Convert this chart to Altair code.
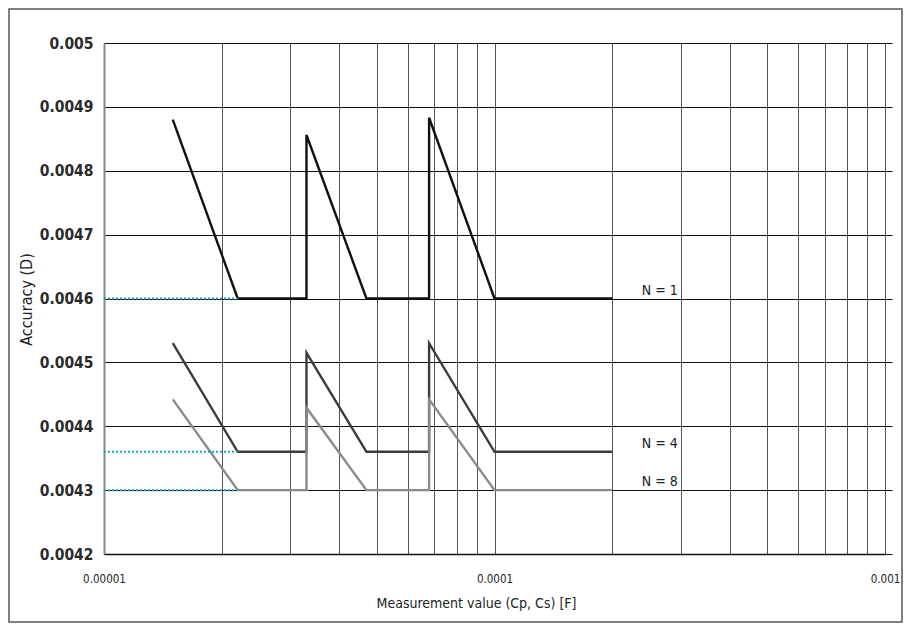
import altair as alt
import pandas as pd

# ---- data ----
x_pts = [1.5e-5, 2.2e-5, 3.3e-5, 3.3e-5, 4.7e-5, 6.8e-5, 6.8e-5, 1e-4, 2e-4]
n1 = [0.00488, 0.0046, 0.0046, 0.004856, 0.0046, 0.0046, 0.004883, 0.0046, 0.0046]
n4 = [0.00453, 0.00436, 0.00436, 0.004515, 0.00436, 0.00436, 0.00453, 0.00436, 0.00436]
n8 = [0.004442, 0.0043, 0.0043, 0.004429, 0.0043, 0.0043, 0.004442, 0.0043, 0.0043]
series_names = ["N = 1", "N = 4", "N = 8"]
series_colors = ["#111111", "#3c3c3c", "#8a8a8a"]

ref_levels = [0.0046, 0.00436, 0.0043]
ref_start = 1e-5
ref_end = 2.2e-5

label_x = 3e-4
y_ticks = [0.005, 0.0049, 0.0048, 0.0047, 0.0046, 0.0045, 0.0044, 0.0043, 0.0042]
x_grid = [1e-5, 2e-5, 3e-5, 4e-5, 5e-5, 6e-5, 7e-5, 8e-5, 9e-5,
          1e-4, 2e-4, 3e-4, 4e-4, 5e-4, 6e-4, 7e-4, 8e-4, 9e-4, 1e-3]

x_title = "Measurement value (Cp, Cs) [F]"
y_title = "Accuracy (D)"

FONT = "DejaVu Sans Condensed, Liberation Sans Narrow, sans-serif"
W, H = 781, 511

rows = []
for name, ys in zip(series_names, [n1, n4, n8]):
    for i, (xv, yv) in enumerate(zip(x_pts, ys)):
        rows.append({"series": name, "idx": i, "x": xv, "y": yv})
df = pd.DataFrame(rows)

ref_df = pd.DataFrame({"y": ref_levels, "x": [ref_start] * 3, "x2": [ref_end] * 3})
lab_df = pd.DataFrame({"label": series_names, "x": [label_x] * 3, "y": ref_levels})

xscale = alt.Scale(type="log", domain=[1e-5, 1e-3], nice=False)
yscale = alt.Scale(domain=[0.0042, 0.005], nice=False, zero=False)

x_axis = alt.Axis(
    values=x_grid, title=x_title, grid=True, gridColor="#555555", gridWidth=1,
    ticks=False, domain=True, domainColor="#111111", domainWidth=1.5,
    labelExpr="abs(log(datum.value)/LN10 - round(log(datum.value)/LN10)) < 1e-6 ? format(datum.value, '.5~f') : ''",
    labelFont=FONT, labelFontSize=11.5, labelColor="#222222", labelPadding=19,
    labelFlush=False, labelOverlap=False,
    titleFont=FONT, titleFontSize=14, titleFontWeight="normal", titleColor="#222222",
    titleY=49, titleBaseline="middle", titleX=372,
)
y_axis = alt.Axis(
    values=y_ticks, title=y_title, grid=True, gridColor="#111111", gridWidth=1,
    ticks=False, domain=True, domainColor="#888888", domainWidth=2,
    format=".4~f",
    labelFont=FONT, labelFontSize=15.5, labelFontWeight="bold", labelColor="#2a2a2a",
    labelPadding=11,
    titleFont=FONT, titleFontSize=16, titleFontWeight="normal", titleColor="#222222",
    titleX=-78, titleY=256, titleAngle=-90, titleBaseline="middle", titleAlign="center",
)

lines = alt.Chart(df).mark_line(strokeWidth=2.4, clip=True).encode(
    x=alt.X("x:Q", scale=xscale, axis=x_axis),
    y=alt.Y("y:Q", scale=yscale, axis=y_axis),
    color=alt.Color("series:N", scale=alt.Scale(domain=series_names, range=series_colors), legend=None),
    order="idx:Q",
    detail="series:N",
)

refs = alt.Chart(ref_df).mark_rule(strokeDash=[2, 2], strokeWidth=2, color="#1aa3c9").encode(
    x=alt.X("x:Q", scale=xscale),
    x2="x2:Q",
    y=alt.Y("y:Q", scale=yscale,
            axis=alt.Axis(orient="right", values=y_ticks, labels=False, ticks=True, tickSize=7,
                          tickColor="#111111", domain=False, grid=False, title=None)),
)

labels = alt.Chart(lab_df).mark_text(
    align="right", baseline="bottom", dx=-3, dy=-1, font=FONT, fontSize=14, color="#222222"
).encode(
    x=alt.X("x:Q", scale=xscale),
    y=alt.Y("y:Q", scale=yscale, axis=None),
    text="label:N",
)

border = alt.Chart(pd.DataFrame({"a": [0]})).mark_rect(
    fill=None, stroke="#555555", strokeWidth=1.5, clip=False
).encode(
    x=alt.value(-95), x2=alt.value(W + 17), y=alt.value(-34), y2=alt.value(H + 68),
)

chart = alt.layer(lines, refs, labels, border).resolve_scale(y="independent").properties(
    width=W, height=H,
    autosize=alt.AutoSizeParams(type="none"),
    padding={"left": 96, "top": 35, "right": 18, "bottom": 69},
).configure_view(stroke="#999999", strokeWidth=2).configure(background="white")

chart.save("out.html", embed_options={"renderer": "svg", "actions": False})
